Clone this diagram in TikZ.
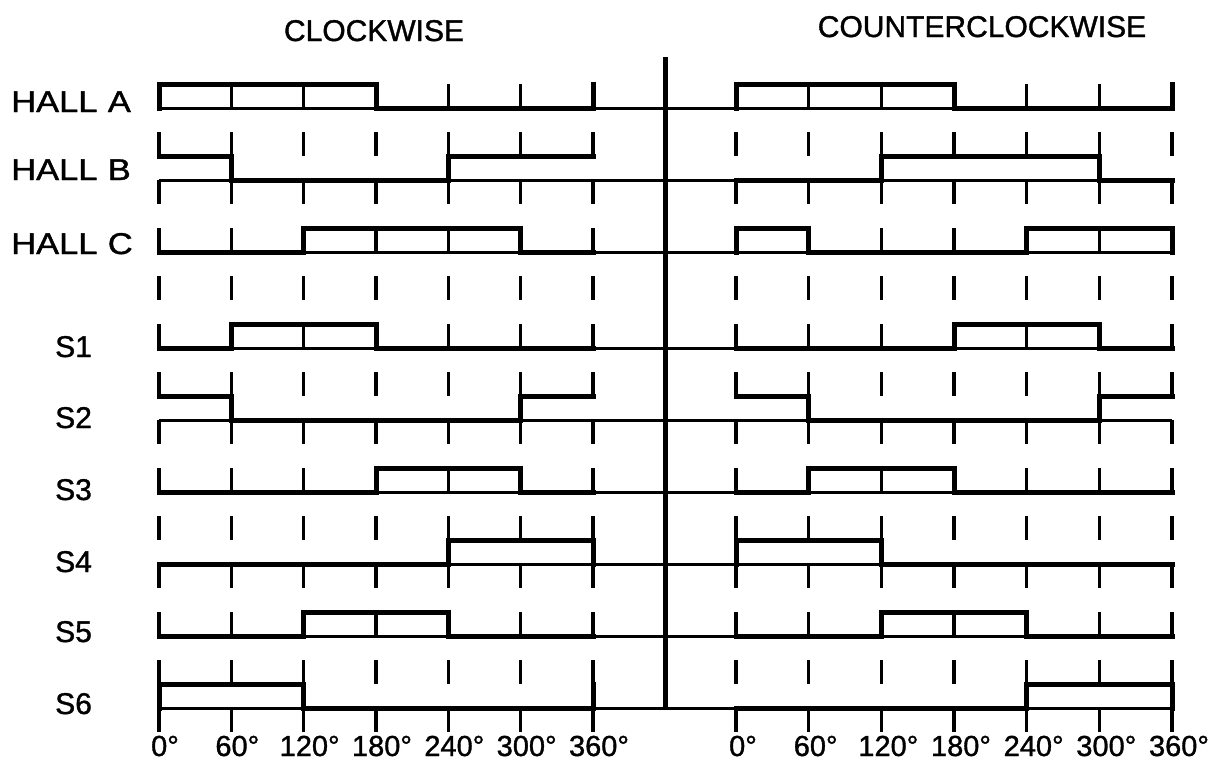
\documentclass[tikz,border=0pt]{standalone}
\usepackage{fontspec}
\setmainfont{Liberation Sans}
\newfontfamily\figfont{Liberation Sans}[FakeBold=1.2]
\usepackage{graphicx}
\usepackage{tikz}

\begin{document}
\begin{tikzpicture}[x=1pt,y=-1pt]
  \tikzset{
    wave/.style={line width=5pt,line cap=rect,line join=miter},
    base/.style={line width=3pt},
    tick/.style={line width=3.2pt,dash pattern=on 24pt off 24pt},
    lbl/.style={font=\figfont\fontsize{30}{34}\selectfont,anchor=base west,inner sep=0pt},
    deg/.style={font=\figfont\fontsize{29}{32}\selectfont,anchor=base,inner sep=0pt},
    ttl/.style={font=\figfont\fontsize{30}{34}\selectfont,anchor=base,inner sep=0pt}
  }
  \useasboundingbox (0,0) rectangle (1232,763);

  % titles
  \node[ttl] (cw) at (374,41) {CLOCKWISE};
  \node[ttl] (ccw) at (982,37) {COUNTERCLOCKWISE};

  % signal names
  \node[lbl] (ha) at (11,112) {\scalebox{1.15}[1]{HALL\hspace{9pt}A}};
  \node[lbl] (hb) at (11,180) {\scalebox{1.15}[1]{HALL\hspace{9pt}B}};
  \node[lbl] (hc) at (11,254) {\scalebox{1.15}[1]{HALL\hspace{9pt}C}};
  \foreach \s/\y in {1/357,2/428,3/500,4/572,5/642,6/714} {
    \node[lbl] (s\s) at (55,\y) {S\s};
  }

  % 60 degree marks and angle labels
  \foreach \d in {0,60,...,360} {
    \draw[tick] ({159+\d*1.2056},84) -- ({159+\d*1.2056},732);
    \draw[tick] ({736+\d*1.2111},84) -- ({736+\d*1.2111},732);
    \node[deg] (dl\d) at ({165+\d*1.2056},756) {\d°};
    \node[deg] (dr\d) at ({743+\d*1.2111},756) {\d°};
  }

  % base lines and divider
  \foreach \y in {108,180,252,348,420,492,564,636,708} {
    \draw[base] (159,\y) -- (1172,\y);
  }
  \draw[line width=5pt] (665,57) -- (665,708);

  % clockwise
  \begin{scope}[xshift=159pt,x=1.2056pt]
    \draw[wave] (0,108) -- (0,84) -- (180,84) -- (180,108) -- (360,108) -- (360,84);
    \draw[wave] (0,156) -- (60,156) -- (60,180) -- (240,180) -- (240,156) -- (360,156);
    \draw[wave] (0,252) -- (120,252) -- (120,228) -- (300,228) -- (300,252) -- (360,252);
    \draw[wave] (0,348) -- (60,348) -- (60,324) -- (180,324) -- (180,348) -- (360,348);
    \draw[wave] (0,396) -- (60,396) -- (60,420) -- (300,420) -- (300,396) -- (360,396);
    \draw[wave] (0,492) -- (180,492) -- (180,468) -- (300,468) -- (300,492) -- (360,492);
    \draw[wave] (0,564) -- (240,564) -- (240,540) -- (360,540) -- (360,564);
    \draw[wave] (0,636) -- (120,636) -- (120,612) -- (240,612) -- (240,636) -- (360,636);
    \draw[wave] (0,708) -- (0,684) -- (120,684) -- (120,708) -- (360,708) -- (360,684);
  \end{scope}

  % counterclockwise
  \begin{scope}[xshift=736pt,x=1.2111pt]
    \draw[wave] (0,108) -- (0,84) -- (180,84) -- (180,108) -- (360,108) -- (360,84);
    \draw[wave] (0,180) -- (120,180) -- (120,156) -- (300,156) -- (300,180) -- (360,180);
    \draw[wave] (0,252) -- (0,228) -- (60,228) -- (60,252) -- (240,252) -- (240,228) -- (360,228) -- (360,252);
    \draw[wave] (0,348) -- (180,348) -- (180,324) -- (300,324) -- (300,348) -- (360,348);
    \draw[wave] (0,396) -- (60,396) -- (60,420) -- (300,420) -- (300,396) -- (360,396);
    \draw[wave] (0,492) -- (60,492) -- (60,468) -- (180,468) -- (180,492) -- (360,492);
    \draw[wave] (0,564) -- (0,540) -- (120,540) -- (120,564) -- (360,564);
    \draw[wave] (0,636) -- (120,636) -- (120,612) -- (240,612) -- (240,636) -- (360,636);
    \draw[wave] (0,708) -- (240,708) -- (240,684) -- (360,684) -- (360,708);
  \end{scope}
\end{tikzpicture}
\end{document}
